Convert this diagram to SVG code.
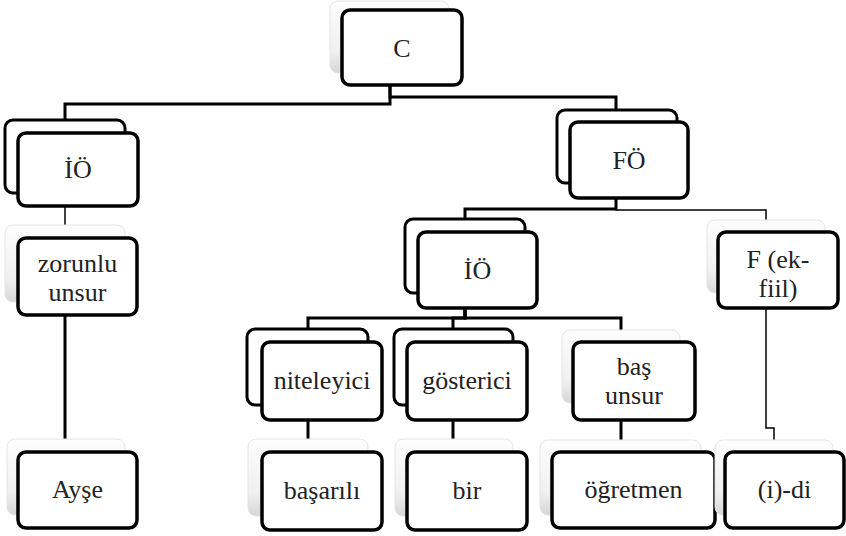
<svg xmlns="http://www.w3.org/2000/svg" width="846" height="536" viewBox="0 0 846 536">
<defs>
<linearGradient id="g" x1="0" y1="0" x2="0" y2="1">
<stop offset="0" stop-color="#fdfdfd"/>
<stop offset="0.7" stop-color="#f0f0f0"/>
<stop offset="1" stop-color="#d6d6d6"/>
</linearGradient>
<style>
.back{fill:#fff;stroke:#000;stroke-width:3}
.soft{fill:url(#g);stroke:#e4e4e4;stroke-width:1}
.front{fill:#fff;stroke:#000;stroke-width:3.5}
.t{font-family:'Liberation Serif','Times New Roman',serif;font-size:26px;fill:#222;text-anchor:middle}
.c{fill:none;stroke:#000;stroke-width:3}
.thin{stroke-width:1.5}
</style>
</defs>
<rect width="846" height="536" fill="#fff"/>
<g id="connectors">
<path class="c" d="M390,85 V104 H65 V120"/>
<path class="c" d="M390,85 V97 H616 V110"/>
<path class="c" d="M616,198 V209 H465 V219"/>
<path class="c thin" d="M616,198 V210 H766 V220"/>
<path class="c" d="M465,308 V318 H308 V329"/>
<path class="c" d="M465,308 V318 H453 V329"/>
<path class="c" d="M465,308 V318 H621 V330"/>
<path class="c" d="M308,405 V439"/>
<path class="c" d="M453,405 V439"/>
<path class="c" d="M621,403 V440"/>
<path class="c thin" d="M766,293 V428 H774 V440"/>
<path class="c thin" d="M65,193 V225"/>
<path class="c" d="M65,302 V439"/>
</g>
<g id="node-C">
<rect class="soft" x="330" y="1" width="119" height="72" rx="8"/>
<rect class="front" x="342" y="10" width="120" height="75" rx="8"/>
<text class="t" x="402" y="57">C</text>
</g>
<g id="node-IO-left">
<rect class="back" x="5" y="120" width="120" height="73" rx="8"/>
<rect class="front" x="18" y="133" width="120" height="73" rx="8"/>
<text class="t" x="78" y="178">İÖ</text>
</g>
<g id="node-FO">
<rect class="back" x="557" y="110" width="120" height="73" rx="8"/>
<rect class="front" x="570" y="122" width="118" height="76" rx="8"/>
<text class="t" x="629" y="169">FÖ</text>
</g>
<g id="node-zorunlu">
<rect class="soft" x="5" y="225" width="120" height="77" rx="8"/>
<rect class="front" x="18" y="238" width="119" height="77" rx="8"/>
<text class="t" x="77.5" y="272">zorunlu<tspan x="77.5" dy="29">unsur</tspan></text>
</g>
<g id="node-IO-mid">
<rect class="back" x="405" y="219" width="120" height="74" rx="8"/>
<rect class="front" x="418" y="232" width="119" height="76" rx="8"/>
<text class="t" x="477.5" y="279">İÖ</text>
</g>
<g id="node-F">
<rect class="soft" x="707" y="220" width="118" height="73" rx="8"/>
<rect class="front" x="718" y="232" width="120" height="76" rx="8"/>
<text class="t" x="778" y="268">F (ek-<tspan x="778" dy="29">fiil)</tspan></text>
</g>
<g id="node-niteleyici">
<rect class="back" x="247" y="329" width="121" height="76" rx="8"/>
<rect class="front" x="262" y="342" width="120" height="78" rx="8"/>
<text class="t" x="322" y="389">niteleyici</text>
</g>
<g id="node-gosterici">
<rect class="back" x="394" y="329" width="119" height="76" rx="8"/>
<rect class="front" x="407" y="342" width="120" height="78" rx="8"/>
<text class="t" x="467" y="389">gösterici</text>
</g>
<g id="node-bas-unsur">
<rect class="soft" x="562" y="330" width="118" height="73" rx="8"/>
<rect class="front" x="573" y="342" width="122" height="78" rx="8"/>
<text class="t" x="634" y="375">baş<tspan x="634" dy="29">unsur</tspan></text>
</g>
<g id="node-Ayse">
<rect class="soft" x="7" y="439" width="118" height="76" rx="8"/>
<rect class="front" x="18" y="452" width="119" height="76" rx="8"/>
<text class="t" x="77.5" y="498">Ayşe</text>
</g>
<g id="node-basarili">
<rect class="soft" x="248" y="439" width="120" height="77" rx="8"/>
<rect class="front" x="262" y="452" width="120" height="78" rx="8"/>
<text class="t" x="322" y="499">başarılı</text>
</g>
<g id="node-bir">
<rect class="soft" x="395" y="439" width="118" height="77" rx="8"/>
<rect class="front" x="407" y="452" width="120" height="78" rx="8"/>
<text class="t" x="467" y="499">bir</text>
</g>
<g id="node-ogretmen">
<rect class="soft" x="540" y="440" width="161" height="75" rx="8"/>
<rect class="front" x="552" y="452" width="163" height="76" rx="8"/>
<text class="t" x="633.5" y="498">öğretmen</text>
</g>
<g id="node-idi">
<rect class="soft" x="715" y="440" width="118" height="75" rx="8"/>
<rect class="front" x="725" y="452" width="119" height="76" rx="8"/>
<text class="t" x="784.5" y="498">(i)-di</text>
</g>
</svg>
